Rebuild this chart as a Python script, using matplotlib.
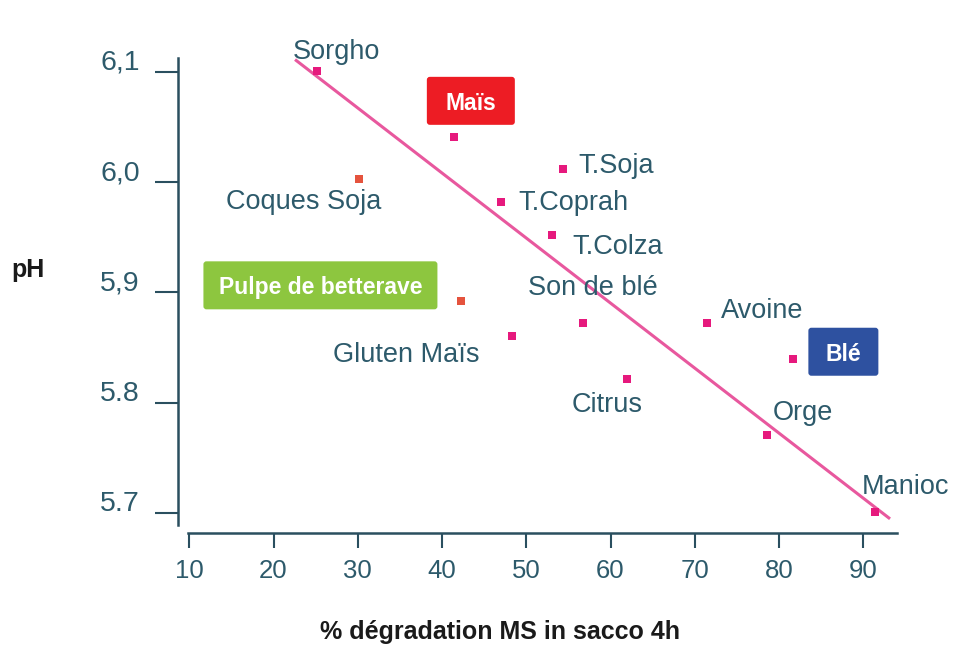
import matplotlib
matplotlib.use('Agg')
import matplotlib.pyplot as plt
import matplotlib.transforms as mtransforms
from matplotlib.patches import FancyBboxPatch

# ── Data ──────────────────────────────────────────────────────────────────────

feeds = ['Sorgho', 'Maïs', 'Coques Soja', 'T.Soja', 'T.Coprah', 'T.Colza',
         'Pulpe de betterave', 'Son de blé', 'Gluten Maïs', 'Avoine', 'Blé',
         'Citrus', 'Orge', 'Manioc']
degradation = [25.1, 41.4, 30.1, 54.4, 47.0, 53.0,
               42.3, 56.7, 48.3, 71.5, 81.7,
               62.0, 78.6, 91.4]
ph = [6.101, 6.041, 6.003, 6.012, 5.982, 5.952,
      5.892, 5.872, 5.861, 5.872, 5.840,
      5.822, 5.771, 5.701]
orange_feeds = ['Coques Soja', 'Pulpe de betterave']

trend_x = [22.55, 93.17]
trend_y = [6.111, 5.695]

x_ticks = [10, 20, 30, 40, 50, 60, 70, 80, 90]
y_ticks = [5.7, 5.8, 5.9, 6.0, 6.1]
y_tick_labels = ['5.7', '5.8', '5,9', '6,0', '6,1']

# highlighted feeds -> box colour
HIGHLIGHT = {
    'Maïs':               '#ed1c24',
    'Pulpe de betterave': '#8dc63f',
    'Blé':                '#2e51a0',
}

# ── Layout (pixel offsets of labels relative to their point) ──────────────────

LABEL_OFFSETS = {   # (dx, dy) left/baseline of text, pixels
    'Sorgho':      (-24, 12),
    'Coques Soja': (-133, -30),
    'T.Coprah':    (17, -8),
    'T.Soja':      (15, -4),
    'T.Colza':     (21, -19),
    'Son de blé':  (-55, 28),
    'Avoine':      (14, 5),
    'Citrus':      (-56, -33),
    'Orge':        (5, 15),
    'Manioc':      (-13, 18),
    'Gluten Maïs': (-179, -26),
}
BOX_LAYOUT = {      # (dx, dy) of box centre, (w, h), pixels
    'Maïs':               ((17, 36), (88, 48)),
    'Pulpe de betterave': ((-141, 16), (234, 48)),
    'Blé':                ((50, 7), (70, 48)),
}

AXIS_COL = '#2a4f5f'
TEXT_COL = '#2d5a6b'
POINT_COL = '#e6197d'
ORANGE_COL = '#e5533d'
LINE_COL = '#e8589e'

plt.rcParams['font.family'] = ['Liberation Sans', 'DejaVu Sans']

W, H, DPI = 959, 649, 100
fig = plt.figure(figsize=(W / DPI, H / DPI), dpi=DPI)
ax = fig.add_axes([0, 0, 1, 1])
ax.patch.set_alpha(0)

# pixel mapping: x=10 -> 189.3 px, 8.425 px/unit ; y=6.1 -> 71.7 px, 1104 px/unit
ax.set_xlim(10 - 189.3 / 8.425, 10 + (W - 189.3) / 8.425)
ax.set_ylim(6.1 - (H - 71.7) / 1104, 6.1 + 71.7 / 1104)

# ── Axes ──────────────────────────────────────────────────────────────────────

for s in ['top', 'right']:
    ax.spines[s].set_visible(False)
ax.spines['left'].set_position(('data', 8.694))
ax.spines['left'].set_bounds(5.6894, 6.1124)
ax.spines['bottom'].set_position(('data', 5.6819))
ax.spines['bottom'].set_bounds(9.85, 93.98)
for s in ['left', 'bottom']:
    ax.spines[s].set_color(AXIS_COL)
    ax.spines[s].set_linewidth(1.8)

ax.set_xticks(x_ticks)
ax.set_xticklabels([str(t) for t in x_ticks])
ax.set_yticks(y_ticks)
ax.set_yticklabels(y_tick_labels)
ax.tick_params(axis='y', direction='out', length=16.6, width=1.5,
               color=AXIS_COL, labelcolor=TEXT_COL, labelsize=20.5, pad=11)
ax.tick_params(axis='x', direction='out', length=10.8, width=1.5,
               color=AXIS_COL, labelcolor=TEXT_COL, labelsize=18.5, pad=8)

up = mtransforms.ScaledTranslation(0, 12 / DPI, fig.dpi_scale_trans)
for lab in ax.get_yticklabels():
    lab.set_transform(lab.get_transform() + up)

# ── Marks ─────────────────────────────────────────────────────────────────────

ax.plot(trend_x, trend_y, color=LINE_COL, linewidth=2.2, solid_capstyle='butt',
        zorder=2)

for name, x, y in zip(feeds, degradation, ph):
    col = ORANGE_COL if name in orange_feeds else POINT_COL
    ax.plot(x, y, marker='s', markersize=5.5, color=col, markeredgewidth=0,
            linestyle='none', zorder=3)

    if name in LABEL_OFFSETS:
        dx, dy = LABEL_OFFSETS[name]
        ax.annotate(name, (x, y), xytext=(dx, dy), textcoords='offset pixels',
                    ha='left', va='baseline', fontsize=19.5, color=TEXT_COL,
                    zorder=4)
    elif name in BOX_LAYOUT:
        (dx, dy), (bw, bh) = BOX_LAYOUT[name]
        px, py = ax.transData.transform((x, y))
        cx, cy = px + dx, py + dy
        box = FancyBboxPatch((cx - bw / 2, cy - bh / 2), bw, bh,
                             boxstyle='round,pad=0,rounding_size=3',
                             facecolor=HIGHLIGHT[name], edgecolor='none',
                             transform=None, zorder=5)
        fig.patches.append(box)
        fig.text(cx / W, cy / H, name, ha='center', va='center_baseline',
                 fontsize=16.5, fontweight='bold', color='white', zorder=6)

# ── Axis titles ───────────────────────────────────────────────────────────────

fig.text(28 / W, 1 - 270 / H, 'pH', ha='center', va='center',
         fontsize=18, fontweight='bold', color='#1a1a1a')
fig.text(500 / W, 1 - 632 / H, '% dégradation MS in sacco 4h', ha='center',
         va='center', fontsize=18, fontweight='bold', color='#1a1a1a')

fig.savefig('out.png', dpi=DPI)
